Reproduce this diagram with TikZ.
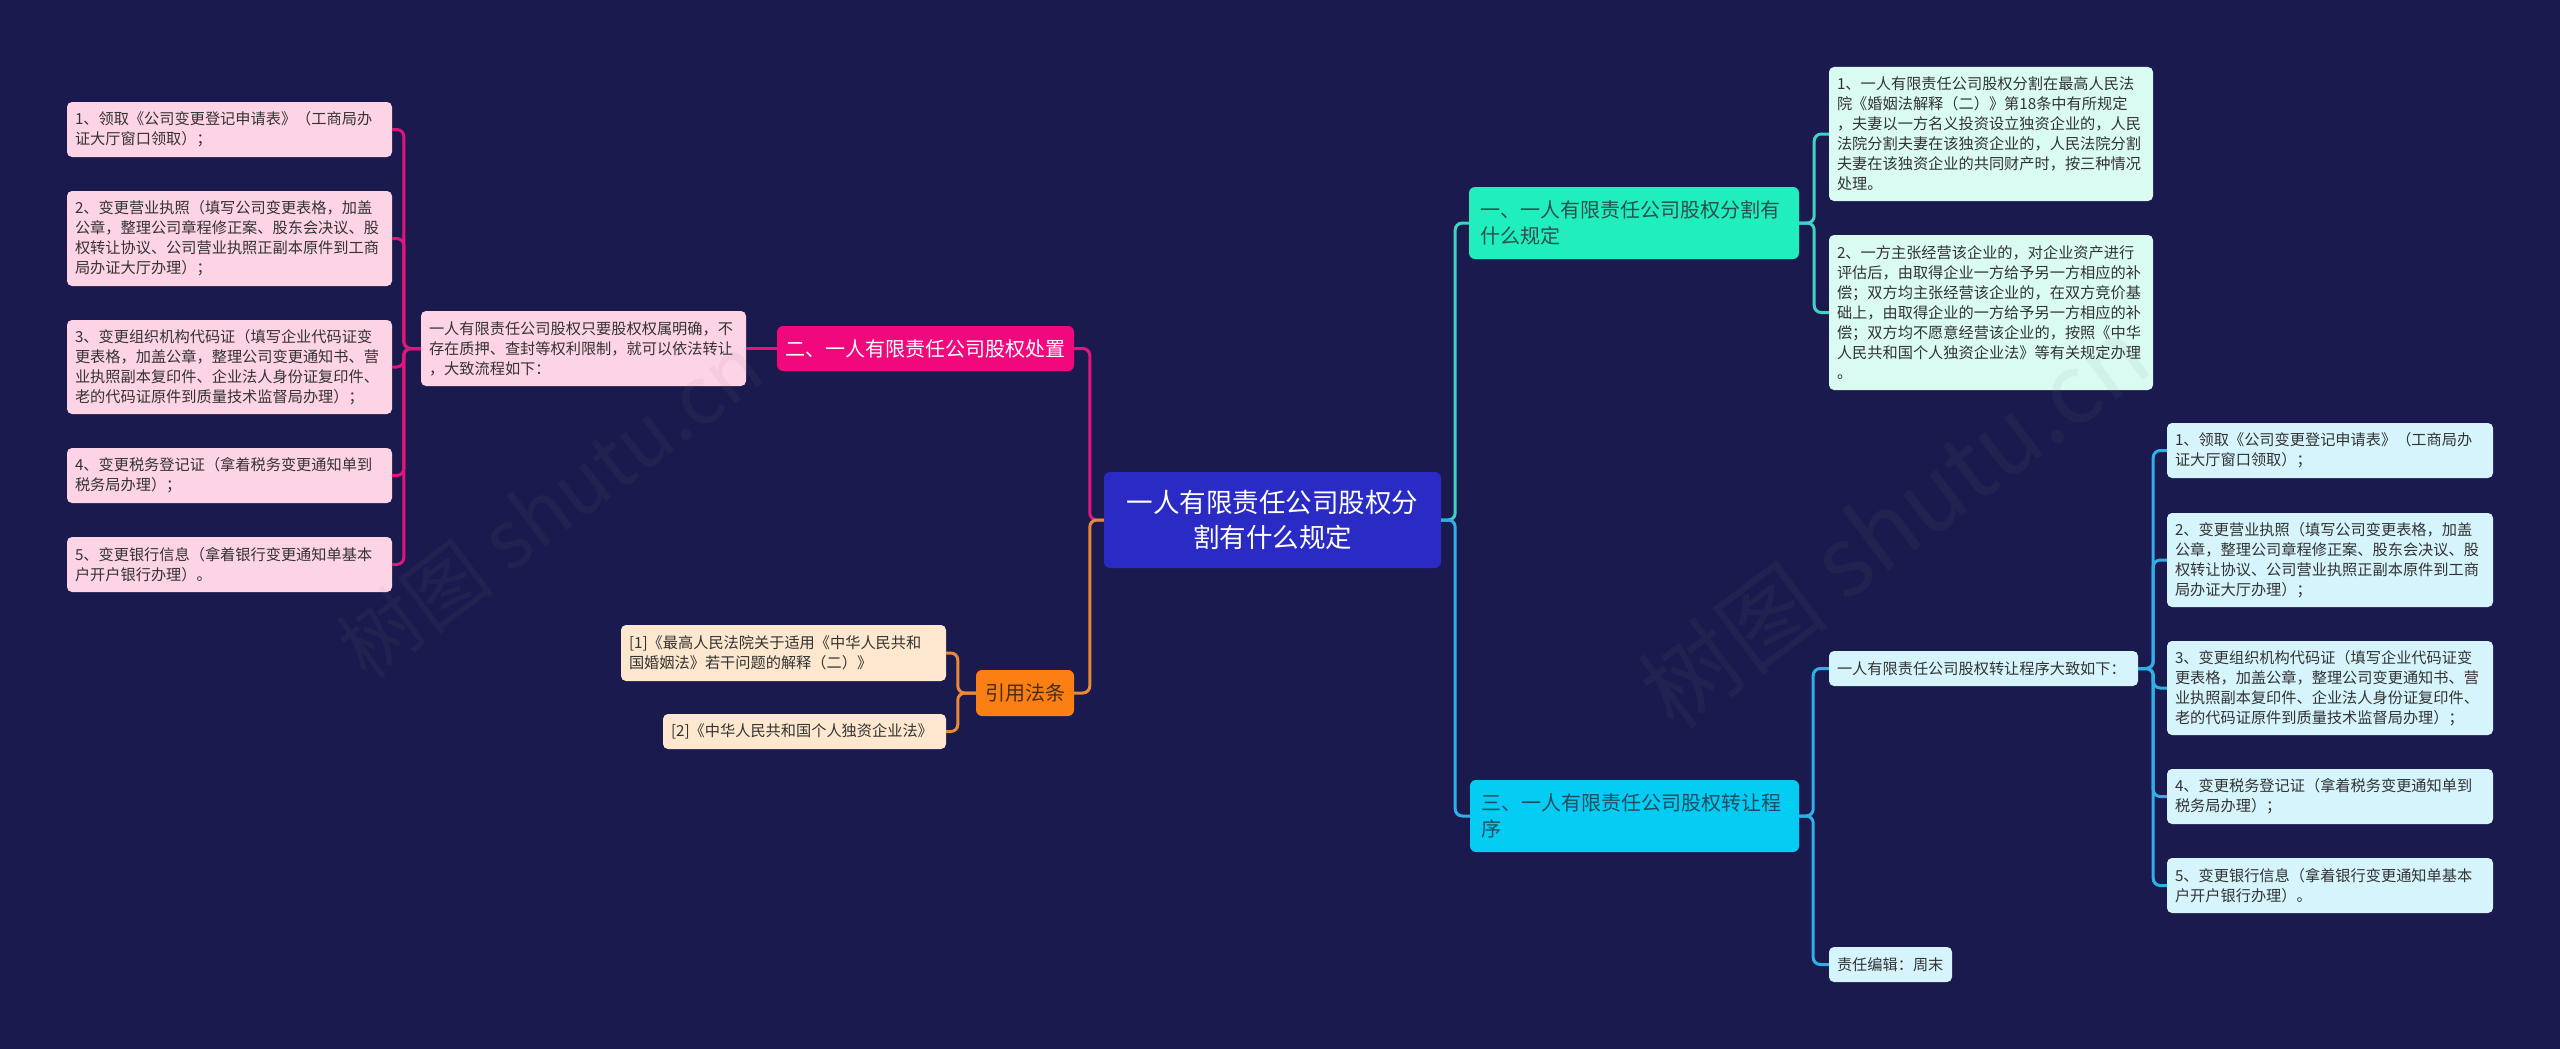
\documentclass[tikz,border=0pt]{standalone}
\usepackage{fontspec}
\setmainfont{Noto Sans CJK SC}
\definecolor{bgnavy}{HTML}{1A1A4E}
\definecolor{rootblue}{HTML}{2A2AC4}
\definecolor{secmint}{HTML}{20EEBF}
\definecolor{seccyan}{HTML}{04CCF2}
\definecolor{secpink}{HTML}{F0087C}
\definecolor{secorange}{HTML}{FB7F12}
\definecolor{mintbox}{HTML}{D9FBF2}
\definecolor{cyanbox}{HTML}{D6F4FC}
\definecolor{pinkbox}{HTML}{FDD3E6}
\definecolor{peachbox}{HTML}{FDE8CF}
\definecolor{txtgray}{HTML}{333333}
\definecolor{txtteal}{HTML}{2B4F4C}
\definecolor{txtsea}{HTML}{1F4E5F}
\definecolor{txtbrown}{HTML}{4A2C14}
\definecolor{linetl}{HTML}{3FD3C3}
\definecolor{linecy}{HTML}{2FB0E8}
\definecolor{linemg}{HTML}{E3157D}
\definecolor{lineor}{HTML}{E8893A}

\begin{document}
\begin{tikzpicture}[
  x=1pt, y=-1pt,
  root/.style={fill=rootblue, text=white, rounded corners=6pt, align=center,
               font=\fontsize{26.5}{35}\selectfont, inner xsep=18.5pt,
               inner ysep=0pt, text width=300pt, minimum height=96pt},
  sec/.style={rounded corners=6pt, align=left, font=\fontsize{20}{26}\selectfont,
              inner xsep=11pt, inner ysep=0pt, minimum height=72pt},
  sm/.style={rounded corners=5pt, align=left, font=\fontsize{15.2}{20}\selectfont,
             text=txtgray, inner xsep=8pt, inner ysep=0pt},
  pk/.style={sm, fill=pinkbox},
  mt/.style={sm, fill=mintbox},
  cb/.style={sm, fill=cyanbox},
  pc/.style={sm, fill=peachbox},
  ln/.style={line width=3pt, rounded corners=7pt},
  lt/.style={ln, draw=linetl},
  lc/.style={ln, draw=linecy},
  lm/.style={ln, draw=linemg},
  lo/.style={ln, draw=lineor},
  wm/.style={text=gray, text opacity=0.08, rotate=37}]

\fill[bgnavy] (0,0) rectangle (2560,1049);

% centre
\node[root] (root) at (1272.5,520)
      {一人有限责任公司股权分\\割有什么规定};

% right: section one
\node[sec, fill=secmint, text=txtteal, text width=308pt] (s1) at (1634,223)
      {一、一人有限责任公司股权分割有\\什么规定};
\node[mt, text width=308pt, minimum height=134pt] (c1a) at (1991,134)
      {1、一人有限责任公司股权分割在最高人民法\\院《婚姻法解释（二）》第18条中有所规定\\，夫妻以一方名义投资设立独资企业的，人民\\法院分割夫妻在该独资企业的，人民法院分割\\夫妻在该独资企业的共同财产时，按三种情况\\处理。};
\node[mt, text width=308pt, minimum height=155pt] (c1b) at (1991,312.5)
      {2、一方主张经营该企业的，对企业资产进行\\评估后，由取得企业一方给予另一方相应的补\\偿；双方均主张经营该企业的，在双方竞价基\\础上，由取得企业的一方给予另一方相应的补\\偿；双方均不愿意经营该企业的，按照《中华\\人民共和国个人独资企业法》等有关规定办理\\。};

% right: section three
\node[sec, fill=seccyan, text=txtsea, text width=307pt] (s3) at (1634.5,816)
      {三、一人有限责任公司股权转让程\\序};
\node[cb, text width=293pt, minimum height=35pt] (t0) at (1983.5,668.5)
      {一人有限责任公司股权转让程序大致如下：};
\node[cb, text width=107pt, minimum height=35pt] (ed) at (1890.5,964.5)
      {责任编辑：周末};
\node[cb, text width=310pt, minimum height=55pt] (r1) at (2330,450.5)
      {1、领取《公司变更登记申请表》（工商局办\\证大厅窗口领取）；};
\node[cb, text width=310pt, minimum height=94pt] (r2) at (2330,560)
      {2、变更营业执照（填写公司变更表格，加盖\\公章，整理公司章程修正案、股东会决议、股\\权转让协议、公司营业执照正副本原件到工商\\局办证大厅办理）；};
\node[cb, text width=310pt, minimum height=94pt] (r3) at (2330,688)
      {3、变更组织机构代码证（填写企业代码证变\\更表格，加盖公章，整理公司变更通知书、营\\业执照副本复印件、企业法人身份证复印件、\\老的代码证原件到质量技术监督局办理）；};
\node[cb, text width=310pt, minimum height=55pt] (r4) at (2330,796.5)
      {4、变更税务登记证（拿着税务变更通知单到\\税务局办理）；};
\node[cb, text width=310pt, minimum height=55pt] (r5) at (2330,885.5)
      {5、变更银行信息（拿着银行变更通知单基本\\户开户银行办理）。};

% left: section two
\node[rounded corners=6pt, fill=secpink, text=white, font=\fontsize{20}{26}\selectfont,
      inner sep=0pt, minimum width=297pt, minimum height=45pt] (s2) at (925.5,348.5)
      {二、一人有限责任公司股权处置};
\node[pk, text width=309pt, minimum height=75pt] (d0) at (583.5,348.5)
      {一人有限责任公司股权只要股权权属明确，不\\存在质押、查封等权利限制，就可以依法转让\\，大致流程如下：};
\node[pk, text width=309pt, minimum height=55pt] (l1) at (229.5,129.5)
      {1、领取《公司变更登记申请表》（工商局办\\证大厅窗口领取）；};
\node[pk, text width=309pt, minimum height=95pt] (l2) at (229.5,238.5)
      {2、变更营业执照（填写公司变更表格，加盖\\公章，整理公司章程修正案、股东会决议、股\\权转让协议、公司营业执照正副本原件到工商\\局办证大厅办理）；};
\node[pk, text width=309pt, minimum height=94pt] (l3) at (229.5,367)
      {3、变更组织机构代码证（填写企业代码证变\\更表格，加盖公章，整理公司变更通知书、营\\业执照副本复印件、企业法人身份证复印件、\\老的代码证原件到质量技术监督局办理）；};
\node[pk, text width=309pt, minimum height=55pt] (l4) at (229.5,475.5)
      {4、变更税务登记证（拿着税务变更通知单到\\税务局办理）；};
\node[pk, text width=309pt, minimum height=55pt] (l5) at (229.5,564.5)
      {5、变更银行信息（拿着银行变更通知单基本\\户开户银行办理）。};

% left: cited laws
\node[rounded corners=6pt, fill=secorange, text=txtbrown, font=\fontsize{20}{26}\selectfont,
      inner sep=0pt, minimum width=98pt, minimum height=46pt] (law) at (1025,693)
      {引用法条};
\node[pc, text width=309pt, minimum height=56pt] (f1) at (783.5,653)
      {[1]《最高人民法院关于适用《中华人民共和\\国婚姻法》若干问题的解释（二）》};
\node[pc, text width=267pt, minimum height=35pt] (f2) at (804.5,731.5)
      {[2]《中华人民共和国个人独资企业法》};

% connectors, right
\draw[lt] (root.east) -- ++(14,0) |- (s1.west);
\draw[lc] (root.east) -- ++(14,0) |- (s3.west);
\draw[lt] (s1.east) -- ++(15,0) |- (c1a.west);
\draw[lt] (s1.east) -- ++(15,0) |- (c1b.west);
\draw[lc] (s3.east) -- ++(14,0) |- (t0.west);
\draw[lc] (s3.east) -- ++(14,0) |- (ed.west);
\draw[lc] (t0.east) -- ++(15,0) |- (r1.west);
\draw[lc] (t0.east) -- ++(15,0) |- (r2.west);
\draw[lc] (t0.east) -- ++(15,0) |- (r3.west);
\draw[lc] (t0.east) -- ++(15,0) |- (r4.west);
\draw[lc] (t0.east) -- ++(15,0) |- (r5.west);

% connectors, left
\draw[lm] (root.west) -- ++(-14,0) |- (s2.east);
\draw[lo] (root.west) -- ++(-14,0) |- (law.east);
\draw[lm] (s2.west) -- (d0.east);
\draw[lm] (d0.west) -- ++(-17,0) |- (l1.east);
\draw[lm] (d0.west) -- ++(-17,0) |- (l2.east);
\draw[lm] (d0.west) -- ++(-17,0) |- (l3.east);
\draw[lm] (d0.west) -- ++(-17,0) |- (l4.east);
\draw[lm] (d0.west) -- ++(-17,0) |- (l5.east);
\draw[lo] (law.west) -- ++(-18,0) |- (f1.east);
\draw[lo] (law.west) -- ++(-18,0) |- (f2.east);

% watermarks
\node[wm, font=\fontsize{80}{80}\selectfont] (wm1) at (550,506) {树图 shutu.cn};
\node[wm, font=\fontsize{96}{96}\selectfont] (wm2) at (1894,522) {树图 shutu.cn};

\end{tikzpicture}
\end{document}
